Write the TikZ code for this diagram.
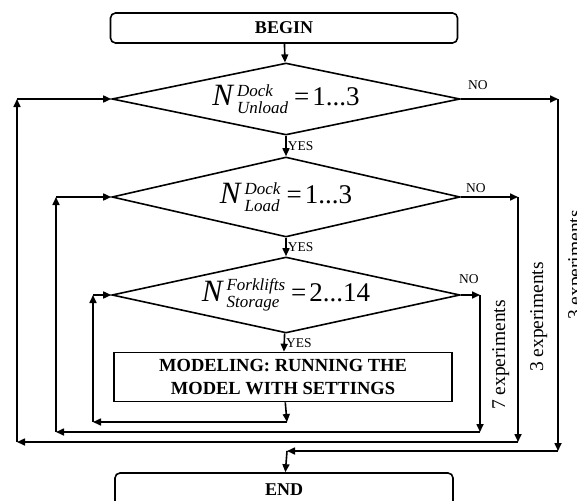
\documentclass[tikz,border=0pt]{standalone}
\usepackage{fontspec}
\setmainfont{Liberation Serif}
\usetikzlibrary{shapes.geometric, arrows.meta, positioning, calc}

% N with a stacked super/subscript and a range
\newcommand{\nrange}[3]{%
  {\fontsize{31}{31}\selectfont\itshape N}\hspace{4pt}%
  $\vcenter{\fontsize{17}{17}\selectfont\itshape
    \baselineskip=17.5pt\lineskiplimit=-20pt
    \hbox{#1}\hbox{#2}}$%
  \hspace{6pt}=\hspace{3pt}#3}

\begin{document}
\begin{tikzpicture}[x=1pt, y=-1pt,
    terminal/.style={draw, rounded corners=5pt, line width=1.6pt, minimum width=347pt, minimum height=30pt, font=\fontsize{18}{20}\selectfont\bfseries},
    decision/.style={draw, diamond, aspect=5, inner sep=0pt, line width=1.6pt, minimum width=348pt, font=\fontsize{27}{27}\selectfont},
    process/.style={draw, line width=1.6pt, minimum width=338pt, minimum height=49pt, align=center, font=\fontsize{18.5}{23}\selectfont\bfseries},
    flow/.style={line width=1.6pt, -{Triangle[length=8pt,width=7pt]}},
    answer/.style={inner sep=1pt, font=\fontsize{13.5}{15}\selectfont},
    count/.style={rotate=90, anchor=base, inner sep=0pt, font=\fontsize{19.5}{21}\selectfont}]
    \useasboundingbox (0,0) rectangle (577,500);

    % Blocks
    \node[terminal] (begin) at (284,28) {BEGIN};
    \node[decision, minimum height=72pt] (unload) at (286,99) {\nrange{Dock}{Unload}{1...3}};
    \node[decision, minimum height=80pt] (load) at (286,197) {\nrange{Dock}{Load}{1...3}};
    \node[decision, minimum height=76pt] (fork) at (286,295) {\nrange{Forklifts}{Storage}{2...14}};
    \node[process] (model) at (283,377) {MODELING: RUNNING THE\\MODEL WITH SETTINGS};
    \node[terminal, minimum width=338pt, minimum height=34pt] (end) at (284,490) {END};

    % Corners of the loops
    \coordinate (r1) at (558,99);
    \coordinate (r1b) at (558,451);
    \coordinate (join) at (287,451);
    \coordinate (r2) at (518,197);
    \coordinate (r2b) at (518,442);
    \coordinate (l1b) at (17,442);
    \coordinate (l1) at (17,99);
    \coordinate (r3) at (480,295);
    \coordinate (r3b) at (480,432);
    \coordinate (l2b) at (56,432);
    \coordinate (l2) at (56,197);
    \coordinate (out) at (287,422);
    \coordinate (l3b) at (93,422);
    \coordinate (l3) at (93,295);

    % Main flow
    \draw[flow] (begin) -- (unload);
    \draw[flow] (unload) -- node[answer, right] (yes1) {YES} (load);
    \draw[flow] (load) -- node[answer, right] (yes2) {YES} (fork);
    \draw[flow] (fork) -- node[answer, right] (yes3) {YES} (model);

    % Storage loop
    \draw[flow] (model) -- (out);
    \draw[flow] (out) -- (l3b);
    \draw[flow] (l3b) -- (l3);
    \draw[flow] (l3) -- (fork.west);

    % Load loop
    \draw[flow] (fork.east) -- (r3);
    \draw[flow] (r3) -- (r3b);
    \draw[flow] (r3b) -- (l2b);
    \draw[flow] (l2b) -- (l2);
    \draw[flow] (l2) -- (load.west);

    % Unload loop
    \draw[flow] (load.east) -- (r2);
    \draw[flow] (r2) -- (r2b);
    \draw[flow] (r2b) -- (l1b);
    \draw[flow] (l1b) -- (l1);
    \draw[flow] (l1) -- (unload.west);

    % Exit
    \draw[flow] (unload.east) -- (r1);
    \draw[flow] (r1) -- (r1b);
    \draw[flow] (r1b) -- (join);
    \draw[flow] (join) -- (end);

    % NO labels
    \node[answer] (no1) at ($(unload.east)+(17,-14)$) {NO};
    \node[answer] (no2) at ($(load.east)+(15,-9)$) {NO};
    \node[answer] (no3) at ($(fork.east)+(8,-16)$) {NO};

    % Counts
    \node[count] (n7) at (505,355) {7 experiments};
    \node[count] (n3a) at (543,317) {3 experiments};
    \node[count] (n3b) at (581,265) {3 experiments};
\end{tikzpicture}
\end{document}
